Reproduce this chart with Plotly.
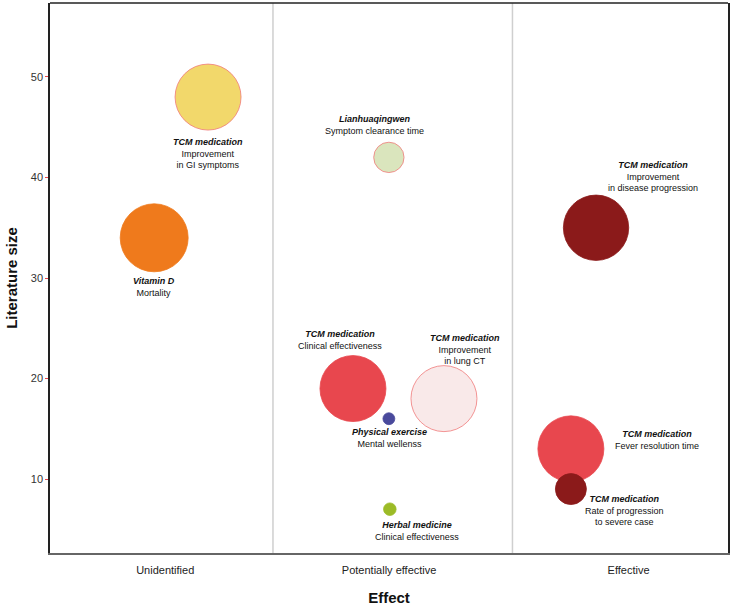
import plotly.graph_objects as go

# ---- data ----
categories = ["Unidentified", "Potentially effective", "Effective"]
interventions = ["Vitamin D", "TCM medication", "Lianhuaqingwen", "TCM medication",
                 "TCM medication", "Physical exercise", "Herbal medicine",
                 "TCM medication", "TCM medication", "TCM medication"]
outcomes = ["Mortality", "Improvement<br>in GI symptoms", "Symptom clearance time",
            "Clinical effectiveness", "Improvement<br>in lung CT", "Mental wellenss",
            "Clinical effectiveness", "Improvement<br>in disease progression",
            "Fever resolution time", "Rate of progression<br>to severe case"]
effect_cat = [0, 0, 1, 1, 1, 1, 1, 2, 2, 2]
jitter = [0.004, 0.229, -0.016, -0.166, 0.214, -0.016, -0.012, -0.151, -0.256, -0.256]
literature_size = [34, 48, 42, 19, 18, 16, 7, 35, 13, 9]
bubble_weight = [10.3, 10.0, 4.6, 10.0, 10.0, 1.8, 1.9, 9.9, 10.0, 4.7]

# ---- styles ----
fill_colors = ["#EF7A1C", "#F2D86B", "#DAE5BD", "#E8474E", "#F9E9E9",
               "#4A4A9C", "#9CBB27", "#8B1A1A", "#E8474E", "#8B1A1A"]
line_colors = ["#EF7A1C", "#F07A7A", "#F07A7A", "#E8474E", "#F07A7A",
               "#4A4A9C", "#9CBB27", "#8B1A1A", "#E8474E", "#8B1A1A"]
# label offsets in pixels (dx right, dy up)
label_dx = [0, 0, -14, -13, 21, 1, 27, 57, 86, 54]
label_dy = [-49.5, -56.5, 32.5, 49, 49.5, -19, -22, 51, 9, -21]
# tick label placement within each panel
tick_pos = [0.05, 0.985, 1.985]

xs = [c + j for c, j in zip(effect_cat, jitter)]

fig = go.Figure()
fig.add_trace(go.Scatter(
    x=xs, y=literature_size, mode="markers",
    marker=dict(size=bubble_weight, sizemode="diameter", sizeref=10.0 / 66.0,
                color=fill_colors, opacity=1,
                line=dict(color=line_colors, width=0.8)),
    hoverinfo="skip", showlegend=False))

for i in range(len(xs)):
    fig.add_annotation(
        x=xs[i], y=literature_size[i], xref="x", yref="y",
        text="<b><i>" + interventions[i] + "</i></b><br>" + outcomes[i],
        showarrow=False, xshift=label_dx[i], yshift=label_dy[i],
        xanchor="center", yanchor="middle", align="center",
        font=dict(family="Liberation Sans, Arial, sans-serif", size=9, color="#111"))

# panel separators
for sep in [0.5, 1.5]:
    fig.add_shape(type="line", xref="x", yref="paper", x0=sep, x1=sep, y0=0, y1=1,
                  line=dict(color="#CFCFCF", width=1.5), layer="below")
# top border
fig.add_shape(type="line", xref="paper", yref="paper", x0=0, x1=1, y0=1, y1=1,
              line=dict(color="#222", width=1.5))

fig.update_layout(
    width=731, height=607,
    margin=dict(l=50, r=3, t=3, b=54, autoexpand=False),
    plot_bgcolor="white", paper_bgcolor="white",
    font=dict(family="Liberation Sans, Arial, sans-serif", color="#222"),
    xaxis=dict(range=[-0.431, 2.400], tickvals=tick_pos, ticktext=categories,
               showgrid=False, zeroline=False, showline=True, linecolor="#666",
               linewidth=1.5, ticks="", tickfont=dict(size=11, color="#222"),
               ticklabelstandoff=6, automargin=False,
               title=dict(text="<b>Effect</b>", font=dict(size=15, color="#111"), standoff=18)),
    yaxis=dict(range=[2.64, 57.36], tickvals=[10, 20, 30, 40, 50],
               showgrid=False, zeroline=False, showline=True, linecolor="#222",
               linewidth=1.5, mirror=True, ticks="outside", ticklen=3,
               tickcolor="#E8474E", tickfont=dict(size=11, color="#333"),
               automargin=False,
               title=dict(text="<b>Literature size</b>", font=dict(size=15, color="#111"), standoff=10)),
)

fig.write_html("out.html", config={"displayModeBar": False},
               post_script="document.body.style.margin='0';")
